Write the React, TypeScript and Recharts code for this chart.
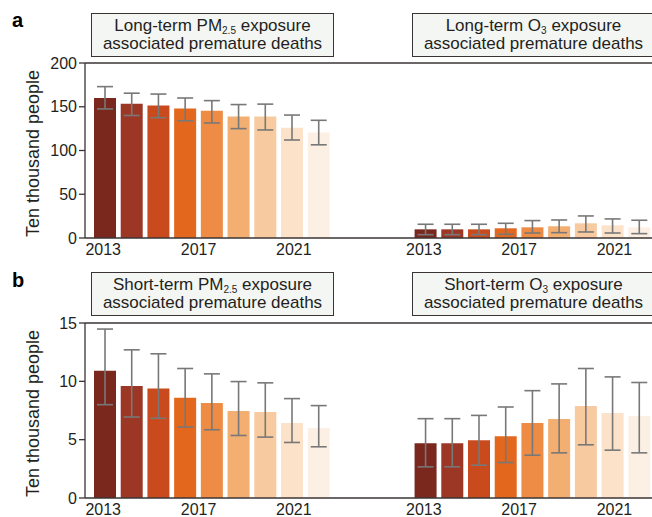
import React from 'react';
import { BarChart, Bar, XAxis, YAxis, CartesianGrid, ErrorBar, Cell } from 'recharts';

const years = ['2013', '2014', '2015', '2016', '2017', '2018', '2019', '2020', '2021'];
const shownYears = ['2013', '2017', '2021'];
const gapSlots = 3;

// panel a: long-term exposure (ten thousand people)
const longPm = [160, 153.5, 151.5, 148, 145.5, 139, 139, 126, 120.5];
const longPmLow = [147.5, 140, 137.5, 134, 131.5, 125, 123.5, 112, 106.5];
const longPmHigh = [173, 165.5, 164.5, 160, 157, 152.5, 153, 140.5, 134.5];

const longO3 = [9.9, 9.9, 9.9, 11.1, 12.2, 13.4, 16.8, 14.5, 12.2];
const longO3Low = [3.8, 3.8, 3.8, 4.2, 5.7, 6.1, 6.9, 5.7, 5];
const longO3High = [15.7, 15.7, 15.7, 16.8, 19.9, 20.6, 25.2, 21.8, 20.3];

// panel b: short-term exposure
const shortPm = [10.9, 9.6, 9.38, 8.6, 8.14, 7.46, 7.37, 6.42, 6.0];
const shortPmLow = [8.0, 6.94, 6.83, 6.08, 5.85, 5.36, 5.22, 4.76, 4.39];
const shortPmHigh = [14.48, 12.7, 12.36, 11.1, 10.64, 9.98, 9.87, 8.52, 7.92];

const shortO3 = [4.7, 4.7, 4.96, 5.3, 6.42, 6.77, 7.89, 7.28, 7.03];
const shortO3Low = [2.67, 2.67, 2.81, 3.04, 3.67, 3.87, 4.56, 4.1, 3.87];
const shortO3High = [6.8, 6.8, 7.08, 7.8, 9.2, 9.78, 11.1, 10.38, 9.9];

const longTicks = [0, 50, 100, 150, 200];
const shortTicks = [0, 5, 10, 15];

const yearColors = ['#7a271e', '#9c3726', '#c94a1c', '#e4671e', '#ee8b44', '#f3ae71', '#f7cb9f', '#fbe2c9', '#fcf0e5'];

// in the original the year labels sit a bit closer together than the bars
const labelStep = 0.892;
const labelShift = -0.08;

const FONT = '"Liberation Sans", Arial, sans-serif';
const AXIS = '#3b3434';
const TEXT = '#231f20';

type Row = { slot: string; value: number | null; err: number[] | null; colorIdx: number };

const buildRows = (
    left: number[], leftLo: number[], leftHi: number[],
    right: number[], rightLo: number[], rightHi: number[]
): Row[] => {
    const rows: Row[] = [];
    years.forEach((y, i) => rows.push({ slot: `L${y}`, value: left[i], err: [left[i] - leftLo[i], leftHi[i] - left[i]], colorIdx: i }));
    for (let k = 0; k < gapSlots; k++) rows.push({ slot: `g${k}`, value: null, err: null, colorIdx: -1 });
    years.forEach((y, i) => rows.push({ slot: `R${y}`, value: right[i], err: [right[i] - rightLo[i], rightHi[i] - right[i]], colorIdx: i }));
    return rows;
};

const longRows = buildRows(longPm, longPmLow, longPmHigh, longO3, longO3Low, longO3High);
const shortRows = buildRows(shortPm, shortPmLow, shortPmHigh, shortO3, shortO3Low, shortO3High);

const YearTick = (props: any) => {
    const { x, y, payload } = props;
    const slot: string = String(payload?.value ?? '');
    if (slot[0] === 'g') return null;
    const year = slot.slice(1);
    if (!shownYears.includes(year)) return null;
    const band = payload?.offset ? payload.offset * 2 : 26.71;
    const shift = (labelShift + (Number(year) - Number(years[0])) * (labelStep - 1)) * band;
    return (
        <text x={x + shift} y={y} dy="0.71em" textAnchor="middle" fontSize={16} fill={TEXT} fontFamily={FONT}>
            {year}
        </text>
    );
};

const YLabel = (props: any) => {
    const vb = props.viewBox || { x: 0, y: 0, width: 0, height: 0 };
    const x = vb.x + 39;
    const cy = vb.y + vb.height / 2 + 3;
    return (
        <text x={x} y={cy} transform={`rotate(-90 ${x} ${cy})`} textAnchor="middle"
            fontSize={18} fill={TEXT} fontFamily={FONT}>
            Ten thousand people
        </text>
    );
};

const Panel = ({ rows, max, ticks, top }: { rows: Row[]; max: number; ticks: number[]; top: number }) => (
    <div style={{ position: 'absolute', left: 0, top }}>
        <BarChart width={680} height={268} data={rows} margin={{ top: 63, right: 20, bottom: 0, left: 0 }}>
            <CartesianGrid vertical={false} stroke={AXIS} strokeWidth={1.3}
                horizontalCoordinatesGenerator={(p: any) => [p.offset.top]} />
            <XAxis
                dataKey="slot"
                interval={0}
                tickLine={false}
                tickSize={6}
                tickMargin={0}
                height={30}
                padding={{ left: 7, right: 7 }}
                axisLine={{ stroke: AXIS, strokeWidth: 1.3 }}
                tick={<YearTick />}
            />
            <YAxis
                type="number"
                domain={[0, max]}
                ticks={ticks}
                width={85}
                tickSize={6}
                tickMargin={2}
                axisLine={{ stroke: AXIS, strokeWidth: 1.3 }}
                tickLine={{ stroke: AXIS, strokeWidth: 1.3 }}
                tick={{ fill: TEXT, fontSize: 16, fontFamily: FONT }}
                label={{ content: YLabel }}
            />
            <Bar dataKey="value" barSize={22} isAnimationActive={false}>
                {rows.map((r) => (
                    <Cell key={r.slot} fill={r.colorIdx >= 0 ? yearColors[r.colorIdx] : 'none'} />
                ))}
                <ErrorBar dataKey="err" direction="y" width={8} stroke="#787878" strokeWidth={1.6} />
            </Bar>
        </BarChart>
    </div>
);

const boxStyle: React.CSSProperties = {
    position: 'absolute',
    width: 243,
    height: 44,
    boxSizing: 'border-box',
    border: `1.5px solid ${AXIS}`,
    background: '#f4f6f4',
    fontFamily: FONT,
    fontSize: 17,
    lineHeight: '18px',
    color: TEXT,
    textAlign: 'center',
    paddingTop: 3,
    whiteSpace: 'nowrap',
};

const subStyle: React.CSSProperties = { fontSize: 10, verticalAlign: -3, lineHeight: 0 };

const TitleBox = ({ left, top, head, sub }: { left: number; top: number; head: string; sub: string }) => (
    <div style={{ ...boxStyle, left, top }}>
        <div>{head}<span style={subStyle}>{sub}</span> exposure</div>
        <div>associated premature deaths</div>
    </div>
);

const panelLetter: React.CSSProperties = {
    position: 'absolute', left: 12, fontFamily: FONT, fontWeight: 'bold', fontSize: 20, lineHeight: '20px', color: '#000',
};

export default function App() {
    return (
        <div style={{ position: 'absolute', left: 0, top: 0, width: 652, height: 517, overflow: 'hidden', background: '#fff' }}>
            <Panel rows={longRows} max={200} ticks={longTicks} top={0} />
            <Panel rows={shortRows} max={15} ticks={shortTicks} top={260} />
            <div style={{ ...panelLetter, top: 10 }}>a</div>
            <div style={{ ...panelLetter, top: 270 }}>b</div>
            <TitleBox left={91} top={13} head="Long-term PM" sub="2.5" />
            <TitleBox left={412} top={13} head="Long-term O" sub="3" />
            <TitleBox left={91} top={272} head="Short-term PM" sub="2.5" />
            <TitleBox left={412} top={272} head="Short-term O" sub="3" />
        </div>
    );
}
